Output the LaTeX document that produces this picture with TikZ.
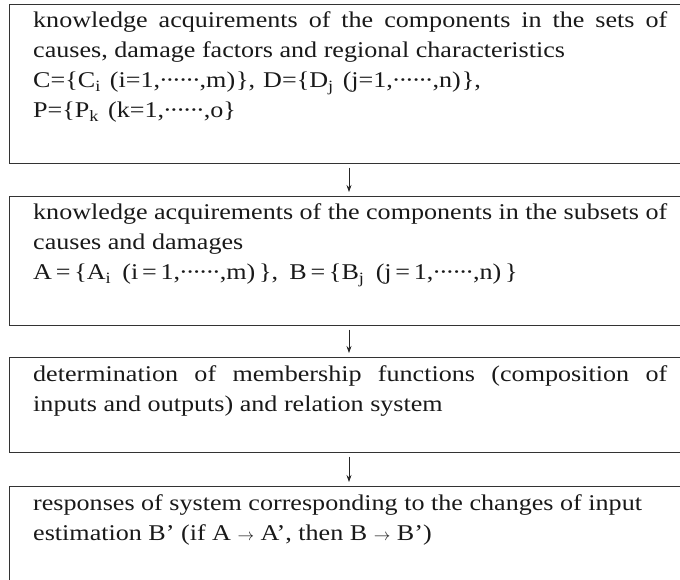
\documentclass[tikz,border=0pt]{standalone}
\usepackage{fontspec}
\setmainfont[FakeStretch=1.16]{Liberation Serif}
\usetikzlibrary{arrows.meta}
\newcommand\sixdots{\makebox[6.6pt]{·}\makebox[6.6pt]{·}\makebox[6.6pt]{·}\makebox[6.6pt]{·}\makebox[6.6pt]{·}\makebox[6.6pt]{·}}
\newcommand\smallarrow{\scalebox{0.8}{$\rightarrow$}}
\begin{document}
\begin{tikzpicture}[x=1pt,y=-1pt,
  boxshape/.style={draw=black!80, line width=0.7pt, rectangle, inner sep=0pt,
    minimum width=700pt, anchor=north west},
  boxtext/.style={inner sep=0pt, anchor=base west,
    font=\fontsize{22.5}{30}\selectfont, text=black!90},
  flow/.style={draw=black!85, line width=0.7pt, -{Stealth[length=7pt,width=5pt]}}]
\useasboundingbox (0,0) rectangle (680,580);
\clip (0,0) rectangle (680,580);
\coordinate (ax) at (349,0);
% boxes
\node[boxshape, minimum height=159pt] (b1) at (9,4) {};
\node[boxshape, minimum height=129pt] (b2) at (9,196) {};
\node[boxshape, minimum height=95pt]  (b3) at (9,357) {};
\node[boxshape, minimum height=140pt] (b4) at (9,486) {};
% texts
\node[boxtext] (t1) at (33,28) {\parbox[t]{634pt}{%
\makebox[634pt][s]{knowledge acquirements of the components in the sets of}\\
causes, damage factors and regional characteristics\\
C=\{C\textsubscript{i}\kern9pt(i=1,\sixdots,m)\kern1pt\},\kern8pt D=\{D\textsubscript{j}\kern9pt(j=1,\sixdots,n)\kern1pt\},\\
P=\{P\textsubscript{k}\kern9pt(k=1,\sixdots,o\}}};
\node[boxtext] (t2) at (33,220) {\parbox[t]{634pt}{%
\makebox[634pt][s]{knowledge acquirements of the components in the subsets of}\\
causes and damages\\
A\,=\,\{A\textsubscript{i}\enspace(i\,=\,1,\sixdots,m)\,\},\enspace B\,=\,\{B\textsubscript{j}\enspace(j\,=\,1,\sixdots,n)\,\}}};
\node[boxtext] (t3) at (33,381) {\parbox[t]{634pt}{%
\makebox[634pt][s]{determination of membership functions (composition of}\\
inputs and outputs) and relation system}};
\node[boxtext] (t4) at (33,510) {\parbox[t]{634pt}{%
responses of system corresponding to the changes of input\\
estimation B’ (if A \smallarrow{} A’, then B \smallarrow{} B’)}};
% arrows
\draw[flow] ([yshift=-4pt]b1.south -| ax) -- ([yshift=4pt]b2.north -| ax);
\draw[flow] ([yshift=-4pt]b2.south -| ax) -- ([yshift=4pt]b3.north -| ax);
\draw[flow] ([yshift=-4pt]b3.south -| ax) -- ([yshift=4pt]b4.north -| ax);
\end{tikzpicture}
\end{document}
